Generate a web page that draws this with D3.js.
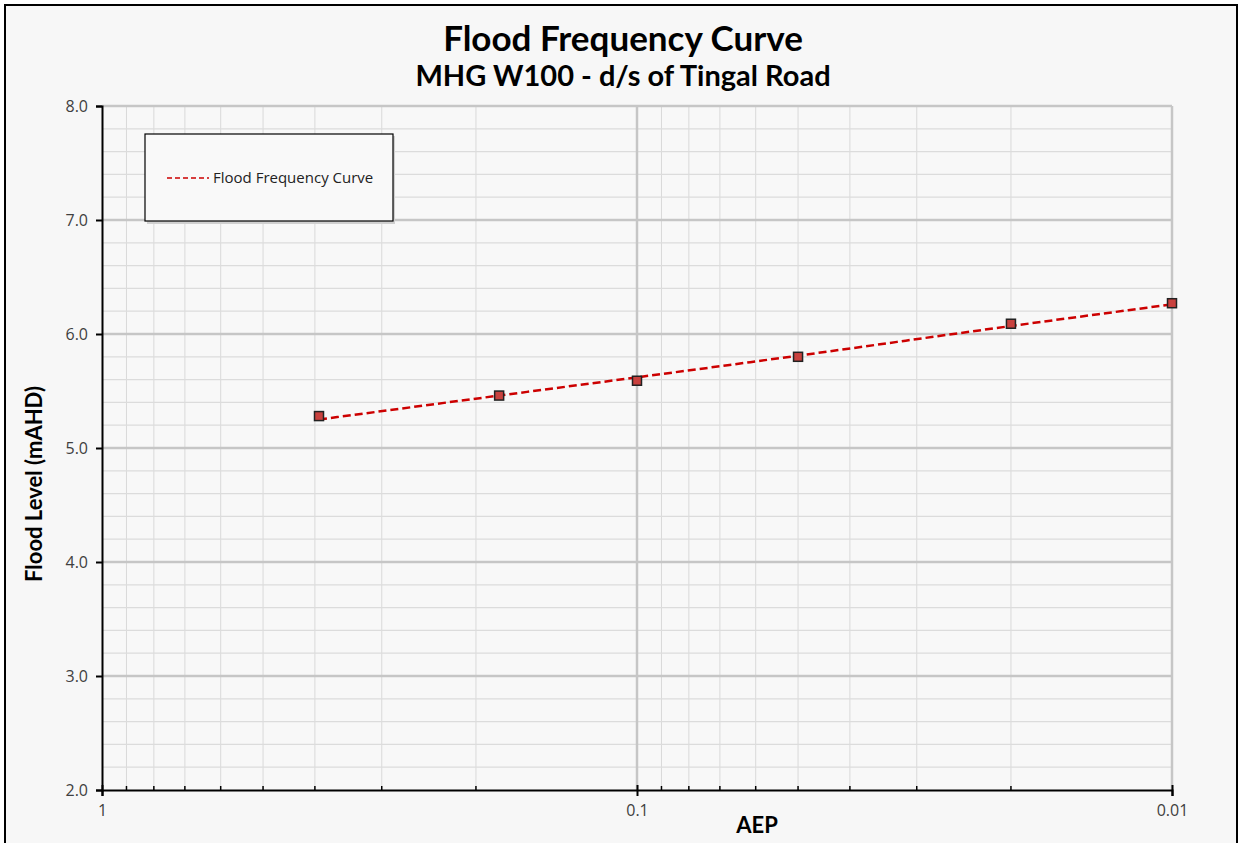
<!DOCTYPE html>
<html>
<head>
<meta charset="utf-8">
<script src="https://cdn.jsdelivr.net/npm/d3@7/dist/d3.min.js"></script>
<style>
  html, body { margin: 0; padding: 0; background: #ffffff; }
  svg { display: block; }
</style>
</head>
<body>
<svg id="chart" width="1240" height="843"></svg>
<script>
// ---- Data ----
const titleText = "Flood Frequency Curve";
const subtitleText = "MHG W100 - d/s of Tingal Road";
const xAxisTitle = "AEP";
const yAxisTitle = "Flood Level (mAHD)";
const seriesName = "Flood Frequency Curve";

const aep = [0.393, 0.181, 0.1, 0.05, 0.02, 0.01];          // marker AEPs
const levels = [5.28, 5.46, 5.59, 5.80, 6.09, 6.27];         // marker flood levels (mAHD)
const curveLevels = [5.25, 5.46, 5.62, 5.81, 6.07, 6.26];    // fitted curve levels
const xTickLabels = [1, 0.1, 0.01];
const yTickValues = [2, 3, 4, 5, 6, 7, 8];

// ---- Layout ----
const plot = { left: 102, right: 1172, top: 106, bottom: 790 };
const svg = d3.select("#chart");

svg.append("rect").attr("x", 5).attr("y", 5).attr("width", 1232).attr("height", 850)
  .attr("fill", "#f7f7f7").attr("stroke", "#000").attr("stroke-width", 2);

const x = d3.scaleLog().domain([1, 0.01]).range([plot.left, plot.right]);
const y = d3.scaleLinear().domain([2, 8]).range([plot.bottom, plot.top]);

svg.append("rect").attr("x", plot.left).attr("y", plot.top)
  .attr("width", plot.right - plot.left).attr("height", plot.bottom - plot.top)
  .attr("fill", "#f8f8f8");

const grid = svg.append("g");
const xAll = x.ticks();
const isMajorX = v => Math.abs(Math.log10(v) - Math.round(Math.log10(v))) < 1e-9;
grid.selectAll("line.xminor").data(xAll.filter(v => !isMajorX(v))).join("line")
  .attr("x1", d => x(d)).attr("x2", d => x(d)).attr("y1", plot.top).attr("y2", plot.bottom)
  .attr("stroke", "#d9d9d9").attr("stroke-width", 1);
const yMinor = d3.range(2, 8.0001, 0.2).filter(v => Math.abs(v - Math.round(v)) > 1e-6);
grid.selectAll("line.yminor").data(yMinor).join("line")
  .attr("x1", plot.left).attr("x2", plot.right).attr("y1", d => y(d)).attr("y2", d => y(d))
  .attr("stroke", "#dcdcdc").attr("stroke-width", 1.2);
grid.selectAll("line.ymajor").data(yTickValues.filter(v => v > 2)).join("line")
  .attr("x1", plot.left).attr("x2", plot.right).attr("y1", d => y(d)).attr("y2", d => y(d))
  .attr("stroke", "#c6c6c6").attr("stroke-width", 2.5);
grid.selectAll("line.xmajor").data(xTickLabels.filter(v => v < 1)).join("line")
  .attr("x1", d => x(d)).attr("x2", d => x(d)).attr("y1", plot.top).attr("y2", plot.bottom)
  .attr("stroke", "#c6c6c6").attr("stroke-width", 2.5);

// ---- Axes ----
const tickFont = "'Open Sans', 'DejaVu Sans', sans-serif";
const yAxis = d3.axisLeft(y).tickValues(yTickValues).tickFormat(d3.format(".1f")).tickSize(6).tickPadding(8);
const gy = svg.append("g").attr("transform", `translate(${plot.left},0)`).call(yAxis);
gy.attr("font-size", null).attr("font-family", null);
gy.select(".domain").attr("stroke", "#000").attr("stroke-width", 2);
gy.selectAll(".tick line").attr("stroke", "#000").attr("stroke-width", 2);
gy.selectAll(".tick text").style("font-family", tickFont).style("font-size", "16px").attr("fill", "#404040");

svg.append("g").selectAll("line").data(xAll.filter(v => !isMajorX(v))).join("line")
  .attr("x1", d => x(d)).attr("x2", d => x(d)).attr("y1", plot.bottom).attr("y2", plot.bottom - 4)
  .attr("stroke", "#000").attr("stroke-width", 1.5);
const xAxis = d3.axisBottom(x).tickValues(xTickLabels).tickFormat(d => String(d)).tickSize(6).tickPadding(9);
const gx = svg.append("g").attr("transform", `translate(0,${plot.bottom})`).call(xAxis);
gx.attr("font-size", null).attr("font-family", null);
gx.select(".domain").attr("stroke", "#000").attr("stroke-width", 2);
gx.selectAll(".tick line").attr("stroke", "#000").attr("stroke-width", 2).attr("y1", -5);
gx.selectAll(".tick text").style("font-family", tickFont).style("font-size", "16px").attr("fill", "#404040");

// ---- Series ----
const pts = aep.map((a, i) => ({ a, v: curveLevels[i] }));
const line = d3.line().x(d => x(d.a)).y(d => y(d.v)).curve(d3.curveMonotoneX);
svg.append("path").datum(pts).attr("d", line)
  .attr("fill", "none").attr("stroke", "#cc0000").attr("stroke-width", 2.5)
  .attr("stroke-dasharray", "8,4");

const ms = 9;
svg.append("g").selectAll("rect").data(aep.map((a, i) => ({ a, v: levels[i] }))).join("rect")
  .attr("x", d => x(d.a) - ms / 2).attr("y", d => y(d.v) - ms / 2)
  .attr("width", ms).attr("height", ms)
  .attr("fill", "#c9413e").attr("stroke", "#222").attr("stroke-width", 1.5);

// ---- Legend ----
const lg = svg.append("g");
lg.append("rect").attr("x", 147).attr("y", 136).attr("width", 248).attr("height", 88).attr("fill", "#d0d0d0");
lg.append("rect").attr("x", 145).attr("y", 134).attr("width", 248).attr("height", 87)
  .attr("fill", "#f9f9f9").attr("stroke", "#000").attr("stroke-width", 1.2);
lg.append("line").attr("x1", 167).attr("x2", 209).attr("y1", 178).attr("y2", 178)
  .attr("stroke", "#cc0000").attr("stroke-width", 1.6).attr("stroke-dasharray", "5,3");
lg.append("text").attr("x", 213).attr("y", 183).text(seriesName)
  .style("font-family", tickFont).style("font-size", "15px").attr("fill", "#222");

// ---- Titles ----
const titleFont = "Lato, 'Open Sans', sans-serif";
svg.append("text").attr("x", 623).attr("y", 51).attr("text-anchor", "middle")
  .attr("font-family", titleFont).attr("font-weight", "bold").attr("font-size", 35).attr("fill", "#000")
  .text(titleText);
svg.append("text").attr("x", 623).attr("y", 86).attr("text-anchor", "middle")
  .attr("font-family", titleFont).attr("font-weight", "bold").attr("font-size", 29).attr("fill", "#000")
  .text(subtitleText);
svg.append("text").attr("x", 757).attr("y", 833).attr("text-anchor", "middle")
  .attr("font-family", titleFont).attr("font-weight", "bold").attr("font-size", 22).attr("fill", "#000")
  .text(xAxisTitle);
svg.append("text").attr("transform", "translate(42,484) rotate(-90)").attr("text-anchor", "middle")
  .attr("font-family", titleFont).attr("font-weight", "bold").attr("font-size", 22).attr("fill", "#000")
  .text(yAxisTitle);
</script>
</body>
</html>
